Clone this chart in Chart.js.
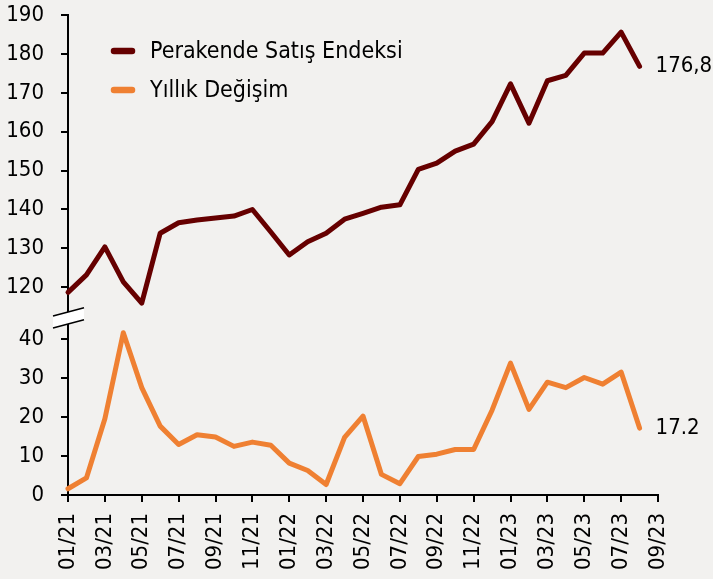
<!DOCTYPE html>
<html>
<head>
<meta charset="utf-8">
<script src="https://cdn.jsdelivr.net/npm/chart.js@4/dist/chart.umd.min.js"></script>
<style>
  html, body { margin: 0; padding: 0; background: #f2f1ef; }
  canvas { display: block; }
</style>
</head>
<body>
<canvas id="c" width="713" height="579"></canvas>
<script>
// ---- data ----
const months = ['01/21','02/21','03/21','04/21','05/21','06/21','07/21','08/21','09/21','10/21','11/21','12/21',
                '01/22','02/22','03/22','04/22','05/22','06/22','07/22','08/22','09/22','10/22','11/22','12/22',
                '01/23','02/23','03/23','04/23','05/23','06/23','07/23','08/23','09/23'];
const retailIndex = [118.7,123.2,130.4,121.4,115.9,133.9,136.6,137.3,137.8,138.3,140.0,134.2,
                     128.3,131.7,133.9,137.5,139.0,140.6,141.2,150.3,151.9,155.0,156.8,162.6,
                     172.3,162.2,173.1,174.5,180.2,180.2,185.6,176.8];
const annualChange = [1.6,4.4,19.6,41.7,27.6,17.7,13.0,15.5,14.9,12.5,13.6,12.8,
                      8.2,6.3,2.7,14.8,20.3,5.3,2.9,9.9,10.5,11.7,11.7,21.8,
                      33.9,22.0,29.0,27.6,30.2,28.5,31.6,17.2];
const seriesNames = ['Perakende Satış Endeksi', 'Yıllık Değişim'];
const endLabels = ['176,8', '17.2'];
const upperTicks = [120,130,140,150,160,170,180,190];
const lowerTicks = [0,10,20,30,40];

const FONT = "'DejaVu Sans Condensed', 'Noto Sans', sans-serif";
const colors = ['#660000', '#ef8032'];

const overlay = {
  id: 'overlay',
  afterDatasetsDraw(chart) {
    const ctx = chart.ctx;
    ctx.save();
    ctx.font = '22px ' + FONT;
    ctx.fillStyle = '#000';
    ctx.textBaseline = 'middle';
    ctx.textAlign = 'left';
    chart.data.datasets.forEach((ds, i) => {
      const meta = chart.getDatasetMeta(i);
      const pt = meta.data[ds.data.length - 1];
      ctx.fillText(endLabels[i], pt.x + 16, pt.y);
    });
    ctx.restore();
  },
  afterDraw(chart) {
    const ctx = chart.ctx;
    // legend
    ctx.save();
    ctx.font = '23px ' + FONT;
    ctx.textBaseline = 'middle';
    ctx.textAlign = 'left';
    ctx.lineCap = 'round';
    const lx = 114, ly = [51, 90];
    chart.data.datasets.forEach((ds, i) => {
      ctx.strokeStyle = ds.borderColor;
      ctx.lineWidth = 6.5;
      ctx.beginPath();
      ctx.moveTo(lx, ly[i]);
      ctx.lineTo(lx + 18, ly[i]);
      ctx.stroke();
      ctx.fillStyle = '#000';
      ctx.fillText(ds.label, 150, ly[i] + 1.5);
    });
    // axis break
    const ax = chart.scales.yLow.right;
    const b = chart.scales.yLow.top;
    const s = 0.26;
    const x0 = ax - 15, x1 = ax + 16;
    ctx.fillStyle = '#ffffff';
    ctx.beginPath();
    ctx.moveTo(x0, b - 6 + 15 * s);
    ctx.lineTo(x1, b - 6 - 16 * s);
    ctx.lineTo(x1, b + 6 - 16 * s);
    ctx.lineTo(x0, b + 6 + 15 * s);
    ctx.closePath();
    ctx.fill();
    ctx.strokeStyle = '#000';
    ctx.lineWidth = 1.5;
    ctx.lineCap = 'butt';
    ctx.beginPath();
    ctx.moveTo(x0, b - 6 + 15 * s); ctx.lineTo(x1, b - 6 - 16 * s);
    ctx.moveTo(x0, b + 6 + 15 * s); ctx.lineTo(x1, b + 6 - 16 * s);
    ctx.stroke();
    ctx.restore();
  }
};

const tickFont = { family: FONT, size: 22 };
function fixY(scale) { scale.width = 68; scale.paddingTop = 0; scale.paddingBottom = 0; }

new Chart(document.getElementById('c'), {
  type: 'line',
  data: {
    labels: months,
    datasets: [
      { label: seriesNames[0], data: retailIndex, yAxisID: 'yHigh', borderColor: colors[0], backgroundColor: colors[0],
        borderWidth: 5, pointRadius: 0, tension: 0, borderCapStyle: 'round', borderJoinStyle: 'round', clip: false },
      { label: seriesNames[1], data: annualChange, yAxisID: 'yLow', borderColor: colors[1], backgroundColor: colors[1],
        borderWidth: 5, pointRadius: 0, tension: 0, borderCapStyle: 'round', borderJoinStyle: 'round', clip: false }
    ]
  },
  options: {
    responsive: false,
    devicePixelRatio: 1,
    animation: false,
    layout: { padding: { top: 15, right: 55, bottom: 0, left: 0 } },
    plugins: { legend: { display: false }, tooltip: { enabled: false } },
    scales: {
      x: {
        type: 'category',
        offset: false,
        grid: { display: true, drawOnChartArea: false, drawTicks: true, tickLength: 7, color: '#000', lineWidth: 2 },
        border: { display: true, color: '#000', width: 2 },
        ticks: { autoSkip: false, maxRotation: 90, minRotation: 90, color: '#000', font: tickFont, padding: 11 },
        afterBuildTicks(scale) { scale.ticks = scale.ticks.filter(t => t.value % 2 === 0); },
        afterFit(scale) { scale.height = 84; scale.paddingLeft = 0; scale.paddingRight = 0; }
      },
      yLow: {
        type: 'linear',
        position: 'left',
        stack: 'y',
        stackWeight: 177,
        min: 0,
        max: 45.5,
        grid: { display: true, drawOnChartArea: false, drawTicks: true, tickLength: 7, color: '#000', lineWidth: 2 },
        border: { display: true, color: '#000', width: 2 },
        ticks: { autoSkip: false, stepSize: 10, includeBounds: false, color: '#000', font: tickFont, padding: 17 },
        afterBuildTicks(scale) { scale.ticks = lowerTicks.map(v => ({ value: v })); },
        afterFit: fixY
      },
      yHigh: {
        type: 'linear',
        position: 'left',
        stack: 'y',
        stackWeight: 303,
        min: 112.1,
        max: 190,
        grid: { display: true, drawOnChartArea: false, drawTicks: true, tickLength: 7, color: '#000', lineWidth: 2 },
        border: { display: true, color: '#000', width: 2 },
        ticks: { autoSkip: false, stepSize: 10, includeBounds: false, color: '#000', font: tickFont, padding: 17 },
        afterBuildTicks(scale) { scale.ticks = upperTicks.map(v => ({ value: v })); },
        afterFit: fixY
      }
    }
  },
  plugins: [overlay]
});
</script>
</body>
</html>
